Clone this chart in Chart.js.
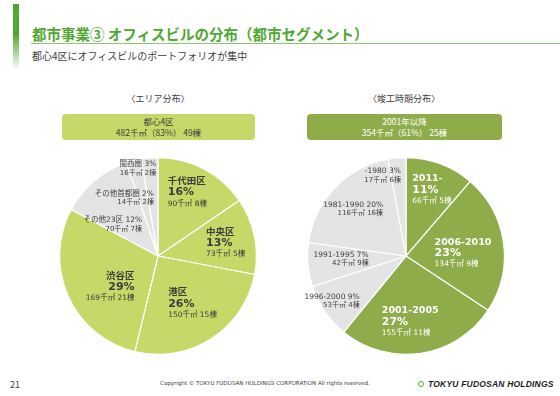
<!DOCTYPE html>
<html lang="ja">
<head>
<meta charset="utf-8">
<script src="https://cdn.jsdelivr.net/npm/chart.js@4/dist/chart.umd.min.js"></script>
<style>
  html, body { margin: 0; padding: 0; background: #fff; }
  body { width: 560px; height: 396px; position: relative; overflow: hidden;
         font-family: "Noto Sans CJK JP", "DejaVu Sans", sans-serif; color: #404040; }
  .abs { position: absolute; }
  #bar { left: 13px; top: 4px; width: 6px; height: 66px;
         background: linear-gradient(#4ea832 0%, #4ea832 45%, #ffffff 100%); }
  #title { left: 32px; top: 23px; font-size: 14.5px; font-weight: bold; color: #4ea832; white-space: nowrap; }
  #rule { left: 31px; top: 43px; width: 529px; height: 1px; background: #8cc872; }
  #sub { left: 32px; top: 48px; font-size: 10px; white-space: nowrap; }
  .head { top: 92px; width: 200px; text-align: center; font-size: 9px; }
  .box { top: 114px; height: 26px; border-radius: 4px; text-align: center;
         font-size: 8.5px; line-height: 10.5px; padding-top: 2px; box-sizing: border-box; }
  .wrap { position: absolute; width: 220px; height: 220px; }
  #page { left: 10px; top: 378px; font-size: 9px; }
  #copy { left: 0; width: 530px; top: 380px; text-align: center; font-size: 5.5px; font-family: "DejaVu Sans", sans-serif; }
  #logo { left: 418px; top: 379px; font-size: 8.5px; font-weight: bold; font-style: italic;
          font-family: "Liberation Sans", sans-serif; color: #1a1a1a; white-space: nowrap; letter-spacing: 0.2px; }
  #logo span { display: inline-block; width: 4px; height: 4px; border: 1.5px solid #5cb531;
               border-radius: 50%; margin-right: 4px; vertical-align: 0; }
</style>
</head>
<body>
<div id="bar" class="abs"></div>
<div id="title" class="abs">都市事業③ オフィスビルの分布（都市セグメント）</div>
<div id="rule" class="abs"></div>
<div id="sub" class="abs">都心4区にオフィスビルのポートフォリオが集中</div>

<div class="abs head" style="left:58px">〈エリア分布〉</div>
<div class="abs box" style="left:62px;width:193px;background:#c6d867;color:#404040">都心4区<br>482千㎡（83%） 49棟</div>
<div class="abs head" style="left:304px">〈竣工時期分布〉</div>
<div class="abs box" style="left:307px;width:195px;background:#8fac4b;color:#fff">2001年以降<br>354千㎡（61%） 25棟</div>

<div class="wrap" style="left:48px;top:146px"><canvas id="areaChart"></canvas></div>
<div class="wrap" style="left:296px;top:146px"><canvas id="periodChart"></canvas></div>

<div id="page" class="abs">21</div>
<div id="copy" class="abs">Copyright © TOKYU FUDOSAN HOLDINGS CORPORATION All rights reserved.</div>
<div id="logo" class="abs"><span></span>TOKYU FUDOSAN HOLDINGS</div>

<script>
// ================= DATA =================
const areaNames = ['千代田区', '中央区', '港区', '渋谷区', 'その他23区', 'その他首都圏', '関西圏'];
const areaValues = [90, 73, 150, 169, 70, 14, 16];      // 千㎡
const areaPercents = [16, 13, 26, 29, 12, 2, 3];
const areaBuildings = [8, 5, 15, 21, 7, 2, 2];
const areaCore = [true, true, true, true, false, false, false];

const periodNames = ['2011-', '2006-2010', '2001-2005', '1996-2000', '1991-1995', '1981-1990', '-1980'];
const periodValues = [66, 134, 155, 53, 42, 116, 17];   // 千㎡
const periodPercents = [11, 23, 27, 9, 7, 20, 3];
const periodBuildings = [5, 9, 11, 4, 9, 16, 6];
const periodRecent = [true, true, true, false, false, false, false];

// ================= STYLE =================
const LIGHT = '#c6d867';
const DARK = '#8fac4b';
const GREY = '#e4e4e4';
const LATIN = '"DejaVu Sans", "Noto Sans CJK JP", sans-serif';

// label placement: fraction of radius, angle shift (deg), text alignment
const areaLabelPos = [
    { r: 0.71, shift: -3, align: 'left' },
    { r: 0.70, shift: 1, align: 'left' },
    { r: 0.60, shift: -3, align: 'left' },
    { r: 0.58, shift: -9, align: 'right' },
    { r: 0.56, shift: -15, align: 'right' },
    { r: 0.68, shift: -16, align: 'right' },
    { r: 0.91, shift: -8, align: 'right' }
];
const periodLabelPos = [
    { r: 0.72, shift: 1, align: 'left' },
    { r: 0.58, shift: 5, align: 'left' },
    { r: 0.67, shift: 5, align: 'left' },
    { r: 0.88, shift: 3, align: 'right' },
    { r: 0.66, shift: 2.5, align: 'right' },
    { r: 0.72, shift: -2, align: 'right' },
    { r: 0.85, shift: -11, align: 'right' }
];

function bigLines(name, pct, val, n, color) {
    return [
        { text: name, font: 'bold 9.5px ' + LATIN, lh: 11, color: color },
        { text: pct + '%', font: 'bold 11px ' + LATIN, lh: 11, color: color },
        { text: val + '千㎡ ' + n + '棟', font: '7.5px ' + LATIN, lh: 11, color: color }
    ];
}
function smallLines(name, pct, val, n) {
    return [
        { text: name + ' ' + pct + '%', font: '7.5px ' + LATIN, lh: 8.5, color: '#404040' },
        { text: val + '千㎡ ' + n + '棟', font: '7px ' + LATIN, lh: 8.5, color: '#404040' }
    ];
}

// ================= LABEL PLUGIN =================
const sliceLabels = {
    id: 'sliceLabels',
    afterDatasetsDraw(chart, args, opts) {
        const ctx = chart.ctx;
        const meta = chart.getDatasetMeta(0);
        meta.data.forEach((arc, i) => {
            const pos = opts.pos[i];
            const lines = opts.lines(i);
            const mid = (arc.startAngle + arc.endAngle) / 2 + pos.shift * Math.PI / 180;
            const px = arc.x + Math.cos(mid) * arc.outerRadius * pos.r;
            const py = arc.y + Math.sin(mid) * arc.outerRadius * pos.r;
            ctx.save();
            let w = 0, h = 0;
            lines.forEach(l => { ctx.font = l.font; w = Math.max(w, ctx.measureText(l.text).width); h += l.lh; });
            const x = pos.align === 'left' ? px - w / 2 : (pos.align === 'right' ? px + w / 2 : px);
            let y = py - h / 2;
            ctx.textAlign = pos.align;
            ctx.textBaseline = 'middle';
            lines.forEach(l => {
                ctx.font = l.font;
                ctx.fillStyle = l.color;
                ctx.fillText(l.text, x, y + l.lh / 2);
                y += l.lh;
            });
            ctx.restore();
        });
    }
};

// ================= CHARTS =================
function makePie(id, names, values, colors, pos, lines) {
    return new Chart(document.getElementById(id), {
        type: 'pie',
        data: {
            labels: names,
            datasets: [{
                data: values,
                backgroundColor: colors,
                borderColor: '#ffffff',
                borderWidth: 1.2,
                hoverOffset: 0
            }]
        },
        options: {
            responsive: false,
            animation: false,
            layout: { padding: 11 },
            plugins: {
                legend: { display: false },
                tooltip: { enabled: false },
                sliceLabels: { pos: pos, lines: lines }
            }
        },
        plugins: [sliceLabels]
    });
}

document.getElementById('areaChart').width = 220;
document.getElementById('areaChart').height = 220;
document.getElementById('periodChart').width = 220;
document.getElementById('periodChart').height = 220;

makePie('areaChart', areaNames, areaValues,
    areaCore.map(c => c ? LIGHT : GREY), areaLabelPos,
    i => areaCore[i]
        ? bigLines(areaNames[i], areaPercents[i], areaValues[i], areaBuildings[i], '#3c3c3c')
        : smallLines(areaNames[i], areaPercents[i], areaValues[i], areaBuildings[i]));

makePie('periodChart', periodNames, periodValues,
    periodRecent.map(c => c ? DARK : GREY), periodLabelPos,
    i => periodRecent[i]
        ? bigLines(periodNames[i], periodPercents[i], periodValues[i], periodBuildings[i], '#ffffff')
        : smallLines(periodNames[i], periodPercents[i], periodValues[i], periodBuildings[i]));
</script>
</body>
</html>
